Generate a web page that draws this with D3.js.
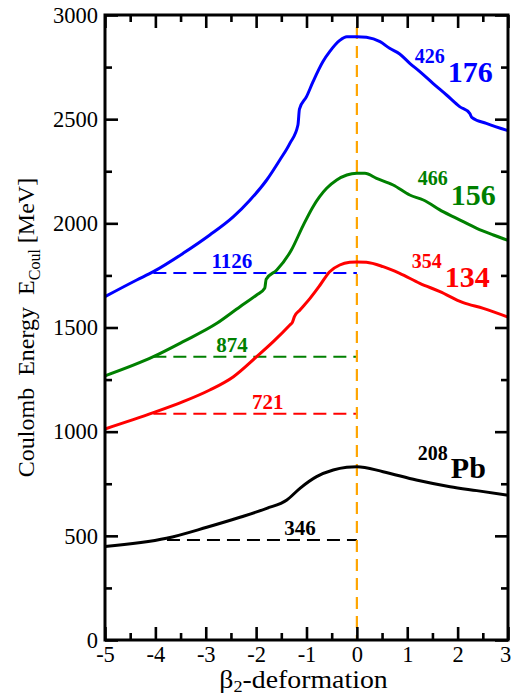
<!DOCTYPE html>
<html><head><meta charset="utf-8">
<script src="https://cdn.jsdelivr.net/npm/d3@7"></script>
<style>
html,body{margin:0;padding:0;background:#fff;}
svg text{font-family:"Liberation Serif","Times New Roman",Times,serif !important;}
</style></head>
<body><svg id="c" width="512" height="699"></svg>
<script>
// ---- data ----
const blueBeta = [-5,-4.37,-4.04,-3.45,-2.92,-2.45,-2.12,-1.79,-1.53,-1.33,-1.17,-1.14,-1.0,-0.87,-0.67,-0.54,-0.34,-0.2,0,0.19,0.46,0.65,0.85,1.05,1.25,1.51,1.78,2.04,2.24,2.28,2.57,3.0];
const blueE    = [1648,1728,1768,1856,1944,2032,2112,2208,2304,2384,2472,2548,2608,2680,2778,2824,2878,2896,2896,2893,2872,2840,2813,2768,2728,2672,2616,2560,2528,2509,2480,2445];

const greenBeta = [-5,-4.04,-3.45,-2.78,-2.32,-1.99,-1.83,-1.80,-1.59,-1.30,-1.07,-0.87,-0.60,-0.40,-0.20,0,0.16,0.39,0.72,1.05,1.32,1.71,1.98,2.38,2.71,3.0];
const greenE    = [1268,1360,1432,1520,1600,1656,1688,1732,1776,1872,1988,2080,2168,2208,2232,2240,2240,2216,2184,2136,2112,2056,2024,1976,1944,1918];

const redBeta = [-5,-4.04,-3.45,-2.92,-2.45,-1.99,-1.66,-1.33,-1.28,-1.24,-1.13,-0.93,-0.73,-0.54,-0.34,-0.14,0,0.19,0.52,0.85,1.25,1.65,2.11,2.51,3.0];
const redE    = [1013,1091,1144,1200,1264,1360,1432,1512,1525,1552,1584,1640,1704,1768,1800,1813,1815,1813,1792,1760,1712,1672,1619,1592,1550];

const blackBeta = [-5,-3.78,-2.98,-2.32,-1.79,-1.39,-1.13,-0.8,-0.47,-0.2,0,0.52,1.18,1.85,2.38,3.0];
const blackE    = [449,488,541,589,632,672,728,784,816,829,832,808,768,736,717,695];

const refStart  = [-4.04,-4.04,-4.04,-3.77];
const refLevel  = [1762,1360,1086,480];
const refLabels = ["1126","874","721","346"];
const refLabelBeta = [-2.48,-2.48,-1.77,-1.13];

const massNumbers = ["426","466","354","208"];
const elementNames = ["176","156","134","Pb"];

const xMajor = [-5,-4,-3,-2,-1,0,1,2,3];
const xMinor = [-4.5,-3.5,-2.5,-1.5,-0.5,0.5,1.5,2.5];
const yMajor = [0,500,1000,1500,2000,2500,3000];
const yMinor = [250,750,1250,1750,2250,2750];

const colors = ["#0000ff","#008000","#ff0000","#000000"];
const SERIF = '"Liberation Serif","Times New Roman",Times,serif';

// ---- chart ----
const svg = d3.select("#c");
const L=105, R=508, T=15, B=640;
const x = d3.scaleLinear().domain([-5,3]).range([L,R]);
const y = d3.scaleLinear().domain([0,3000]).range([B,T]);

svg.append("rect").attr("width",512).attr("height",699).attr("fill","#fff");

const series = [
  {b:blueBeta,e:blueE},{b:greenBeta,e:greenE},{b:redBeta,e:redE},{b:blackBeta,e:blackE}
];

// dashed reference lines
refLevel.forEach((lv,i)=>{
  svg.append("line").attr("x1",x(refStart[i])).attr("x2",x(0))
    .attr("y1",y(lv)).attr("y2",y(lv))
    .attr("stroke",colors[i]).attr("stroke-width",2).attr("stroke-dasharray","13,7");
  svg.append("text").attr("x",x(refLabelBeta[i])).attr("y",y(lv)-5)
    .attr("text-anchor","middle").attr("font-weight","bold").attr("font-size",21)
    .style("font-family",SERIF)
    .attr("fill",colors[i]).text(refLabels[i]);
});

// orange vertical line
svg.append("line").attr("x1",x(0)).attr("x2",x(0)).attr("y1",y(2942)).attr("y2",y(0))
  .attr("stroke","#ffa500").attr("stroke-width",2.2).attr("stroke-dasharray","12,7");

// curves
const line = d3.line().curve(d3.curveMonotoneX);
series.forEach((s,i)=>{
  const pts = s.b.map((bv,j)=>[x(bv),y(s.e[j])]);
  svg.append("path").attr("d",line(pts)).attr("fill","none")
    .attr("stroke",colors[i]).attr("stroke-width",3).attr("stroke-linejoin","round");
});

// nucleus labels
const labPos = [[1.15,63,82],[1.21,185,205],[1.09,268,287],[1.21,460,478]];
labPos.forEach((p,i)=>{
  const x0 = x(p[0]);
  svg.append("text").attr("x",x0).attr("y",p[1]).attr("font-weight","bold")
    .style("font-family",SERIF)
    .attr("font-size",20).attr("fill",colors[i]).text(massNumbers[i]);
  svg.append("text").attr("x",x0+33).attr("y",p[2]).attr("font-weight","bold")
    .style("font-family",SERIF)
    .attr("font-size",30).attr("fill",colors[i]).text(elementNames[i]);
});

// axes (ticks inward on all sides)
function styleAxis(g){
  g.attr("font-family",null);
  g.selectAll("path").remove();
  g.selectAll("line").attr("stroke","#000").attr("stroke-width",2.6);
  g.selectAll("text").attr("font-size",22.5).attr("fill","#000").style("font-family",SERIF);
}
const gxb = svg.append("g").attr("transform",`translate(0,${B})`)
  .call(d3.axisBottom(x).tickValues(xMajor).tickSizeInner(-13).tickSizeOuter(0).tickPadding(6).tickFormat(d=>String(d)))
  .call(styleAxis);
gxb.selectAll("text").filter(d=>d===3).attr("dx",-3);
svg.append("g").attr("transform",`translate(0,${B})`)
  .call(d3.axisBottom(x).tickValues(xMinor).tickSizeInner(-7).tickSizeOuter(0).tickFormat(""))
  .call(styleAxis);
svg.append("g").attr("transform",`translate(0,${T})`)
  .call(d3.axisTop(x).tickValues(xMajor).tickSizeInner(-13).tickSizeOuter(0).tickFormat(""))
  .call(styleAxis);
svg.append("g").attr("transform",`translate(0,${T})`)
  .call(d3.axisTop(x).tickValues(xMinor).tickSizeInner(-7).tickSizeOuter(0).tickFormat(""))
  .call(styleAxis);
svg.append("g").attr("transform",`translate(${L},0)`)
  .call(d3.axisLeft(y).tickValues(yMajor).tickSizeInner(-13).tickSizeOuter(0).tickPadding(7).tickFormat(d=>String(d)))
  .call(styleAxis);
svg.append("g").attr("transform",`translate(${L},0)`)
  .call(d3.axisLeft(y).tickValues(yMinor).tickSizeInner(-7).tickSizeOuter(0).tickFormat(""))
  .call(styleAxis);
svg.append("g").attr("transform",`translate(${R},0)`)
  .call(d3.axisRight(y).tickValues(yMajor).tickSizeInner(-13).tickSizeOuter(0).tickFormat(""))
  .call(styleAxis);
svg.append("g").attr("transform",`translate(${R},0)`)
  .call(d3.axisRight(y).tickValues(yMinor).tickSizeInner(-7).tickSizeOuter(0).tickFormat(""))
  .call(styleAxis);

// frame
svg.append("rect").attr("x",L).attr("y",T).attr("width",R-L).attr("height",B-T)
  .attr("fill","none").attr("stroke","#000").attr("stroke-width",3);

// axis titles
const xt = svg.append("text").attr("transform",`translate(${(L+R)/2-3},688) scale(1.07,1)`)
  .attr("text-anchor","middle").attr("font-size",26).style("font-family",SERIF);
xt.append("tspan").text("β");
xt.append("tspan").attr("font-size",17).attr("dy",4).text("2");
xt.append("tspan").attr("dy",-4).text("-deformation");

const yt = svg.append("text").attr("transform",`translate(34,${(T+B)/2}) rotate(-90)`)
  .attr("text-anchor","middle").attr("font-size",24).style("font-family",SERIF);
yt.append("tspan").text("Coulomb\u00a0\u00a0Energy\u00a0\u00a0E");
yt.append("tspan").attr("font-size",16).attr("dy",6).text("Coul");
yt.append("tspan").attr("dy",-6).text("\u00a0[MeV]");
</script></body></html>
